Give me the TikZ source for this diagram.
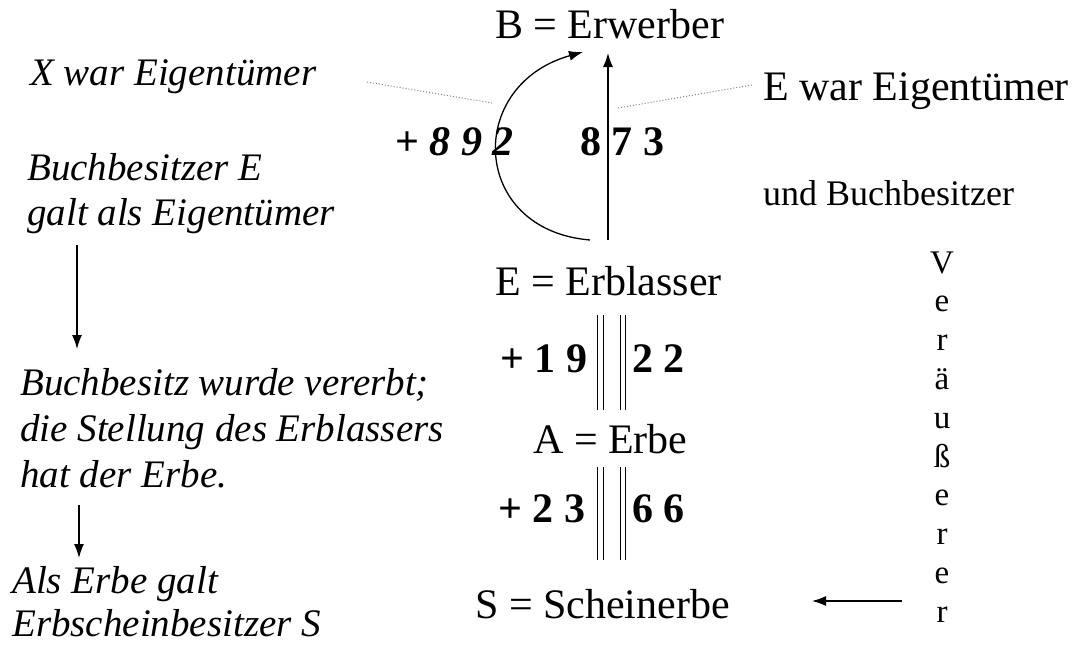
\documentclass[tikz,border=0pt]{standalone}
\usepackage{fontspec}
\setmainfont{Liberation Serif}[ItalicFont={Liberation Serif Italic},BoldFont={Liberation Serif Bold},BoldItalicFont={Liberation Serif Bold Italic}]
\usetikzlibrary{arrows.meta}
\begin{document}
\begin{tikzpicture}[x=1pt,y=-1pt,
  txt/.style={inner sep=0pt, anchor=base west, font=\fontsize{42}{48}\selectfont},
  itx/.style={inner sep=0pt, anchor=base west, font=\fontsize{39}{45}\selectfont\itshape},
  num/.style={inner sep=0pt, anchor=base west, font=\fontsize{42}{48}\selectfont\bfseries},
  vlet/.style={inner sep=0pt, anchor=base, font=\fontsize{33}{38}\selectfont},
  arr/.style={line width=1.3pt, -{Latex[length=14pt,width=10pt]}},
  dots/.style={gray, dotted, line width=1pt},
  dbl/.style={line width=1pt}]
\useasboundingbox (0,0) rectangle (1090,645);

% central column
\node[txt] (B) at (495,38) {B = Erwerber};
\node[txt] (E) at (495,295) {E = Erblasser};
\node[txt] (A) at (533,453) {A = Erbe};
\node[txt] (S) at (475,618) {S = Scheinerbe};

% numbers
\node[num] (n892) at (395,155) {+ \textit{8 9 2}};
\node[num] (n873) at (580,155) {8 7 3};
\node[num] (n19) at (500,372) {+ 1 9};
\node[num] (n22) at (632,372) {2 2};
\node[num] (n23) at (498,522) {+ 2 3};
\node[num] (n66) at (632,522) {6 6};

% right texts
\node[txt] (Ewar) at (763,100) {E war Eigentümer};
\node[txt, font=\fontsize{36}{42}\selectfont] (und) at (763,205) {und Buchbesitzer};

% left texts
\node[itx] (Xwar) at (30,85) {X war Eigentümer};
\node[itx] (bb1) at (27,180) {Buchbesitzer E};
\node[itx] (bb2) at (27,225) {galt als Eigentümer};
\node[itx] (bv1) at (20,395) {Buchbesitz wurde vererbt;};
\node[itx] (bv2) at (20,441) {die Stellung des Erblassers};
\node[itx] (bv3) at (20,487) {hat der Erbe.};
\node[itx] (ae1) at (12,593) {Als Erbe galt};
\node[itx] (ae2) at (12,636) {Erbscheinbesitzer S};

% vertical word
\foreach \c [count=\i from 0] in {V,e,r,ä,u,ß,e,r,e,r}
  \node[vlet] (v\i) at (942,{273+38.8*\i}) {\c};

% coordinates
\coordinate (upS) at (608,240);
\coordinate (upT) at (608,53);
\coordinate (cS) at (590,240);
\coordinate (cT) at (583,52);
\coordinate (dl1) at (367,82);
\coordinate (dl2) at (492,103);
\coordinate (dr1) at (618,108);
\coordinate (dr2) at (752,85);
\coordinate (la1) at (77,245);
\coordinate (la2) at (77,349);
\coordinate (lb1) at (79,505);
\coordinate (lb2) at (79,558);
\coordinate (ra1) at (902,601);
\coordinate (ra2) at (812,601);

% arrows
\draw[arr] (upS) -- (upT);
\draw[arr] (cS) .. controls (470,230) and (465,85) .. (cT);
\draw[arr] (la1) -- (la2);
\draw[arr] (lb1) -- (lb2);
\draw[arr] (ra1) -- (ra2);

% dotted leaders
\draw[dots] (dl1) -- (dl2);
\draw[dots] (dr1) -- (dr2);

% double lines
\foreach \x in {597.7,603.3,620,625.7} {
  \draw[dbl] (\x,315) -- (\x,410);
  \draw[dbl] (\x,467) -- (\x,560);
}
\end{tikzpicture}
\end{document}
